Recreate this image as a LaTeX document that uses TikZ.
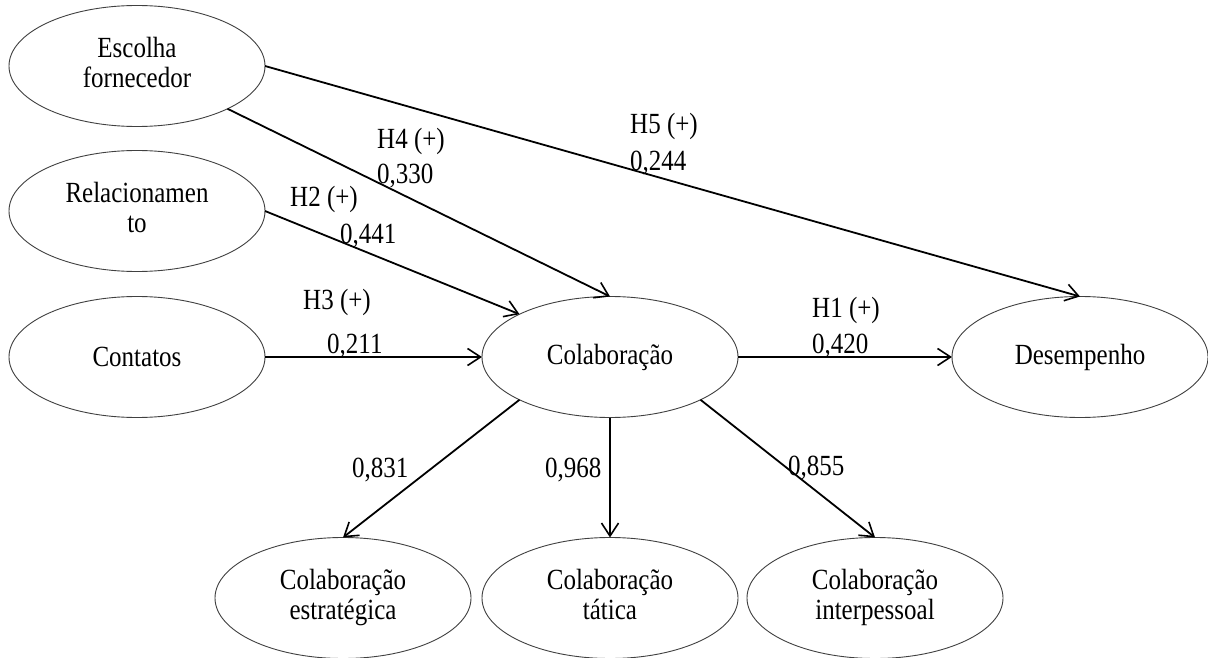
\documentclass[tikz,border=0pt]{standalone}
\usepackage{fontspec}
\setmainfont{Liberation Serif}
\usetikzlibrary{arrows.meta,shapes.geometric}
\newcommand\tallt[1]{\scalebox{1}[1.17]{#1}}
\newcommand\twol[2]{\tallt{\begin{tabular}{@{}c@{}}#1\\[-1pt]#2\end{tabular}}}
\begin{document}
\begin{tikzpicture}[x=1pt,y=-1pt,
  latent/.style={ellipse,draw=black!75,line width=0.9pt,inner sep=0pt,outer sep=0pt,
    minimum width=256pt,minimum height=121pt,align=center,
    font=\fontsize{25}{27}\selectfont},
  path/.style={line width=1.8pt,-{Straight Barb[length=13pt,width=17pt,line width=1.6pt]}},
  lbl/.style={anchor=base west,inner sep=0pt,font=\fontsize{25}{30}\selectfont}]
\clip (0,0) rectangle (1208,658);
\fill[white] (0,0) rectangle (1208,658);
% constructs
\node[latent] (esc) at (137,66) {\twol{Escolha}{fornecedor}};
\node[latent] (rel) at (137,211) {\twol{Relacionamen}{to}};
\node[latent] (con) at (137,357) {\tallt{Contatos}};
\node[latent] (col) at (610,357) {\tallt{Colaboração}};
\node[latent] (des) at (1080,357) {\tallt{Desempenho}};
\node[latent] (estr) at (343,598) {\twol{Colaboração}{estratégica}};
\node[latent] (tat) at (610,598) {\twol{Colaboração}{tática}};
\node[latent] (inter) at (875,598) {\twol{Colaboração}{interpessoal}};
% paths
\draw[path] (esc.east) -- (des.north);
\draw[path] (esc.south east) -- (col.north);
\draw[path] (rel.east) -- (col.north west);
\draw[path] (con.east) -- (col.west);
\draw[path] (col.east) -- (des.west);
\draw[path] (col.south west) -- (estr.north);
\draw[path] (col.south) -- (tat.north);
\draw[path] (col.south east) -- (inter.north);
% labels
\node[lbl] (l4a) at (377,149) {\tallt{H4 (+)}};
\node[lbl] (l4b) at (377,183) {\tallt{0,330}};
\node[lbl] (l5a) at (630,134) {\tallt{H5 (+)}};
\node[lbl] (l5b) at (630,171) {\tallt{0,244}};
\node[lbl] (l2a) at (290,207) {\tallt{H2 (+)}};
\node[lbl] (l2b) at (340,243) {\tallt{0,441}};
\node[lbl] (l3a) at (303,309) {\tallt{H3 (+)}};
\node[lbl] (l3b) at (327,353) {\tallt{0,211}};
\node[lbl] (l1a) at (812,317) {\tallt{H1 (+)}};
\node[lbl] (l1b) at (812,353) {\tallt{0,420}};
\node[lbl] (lc1) at (352,477) {\tallt{0,831}};
\node[lbl] (lc2) at (545,477) {\tallt{0,968}};
\node[lbl] (lc3) at (788,475) {\tallt{0,855}};
\end{tikzpicture}
\end{document}
